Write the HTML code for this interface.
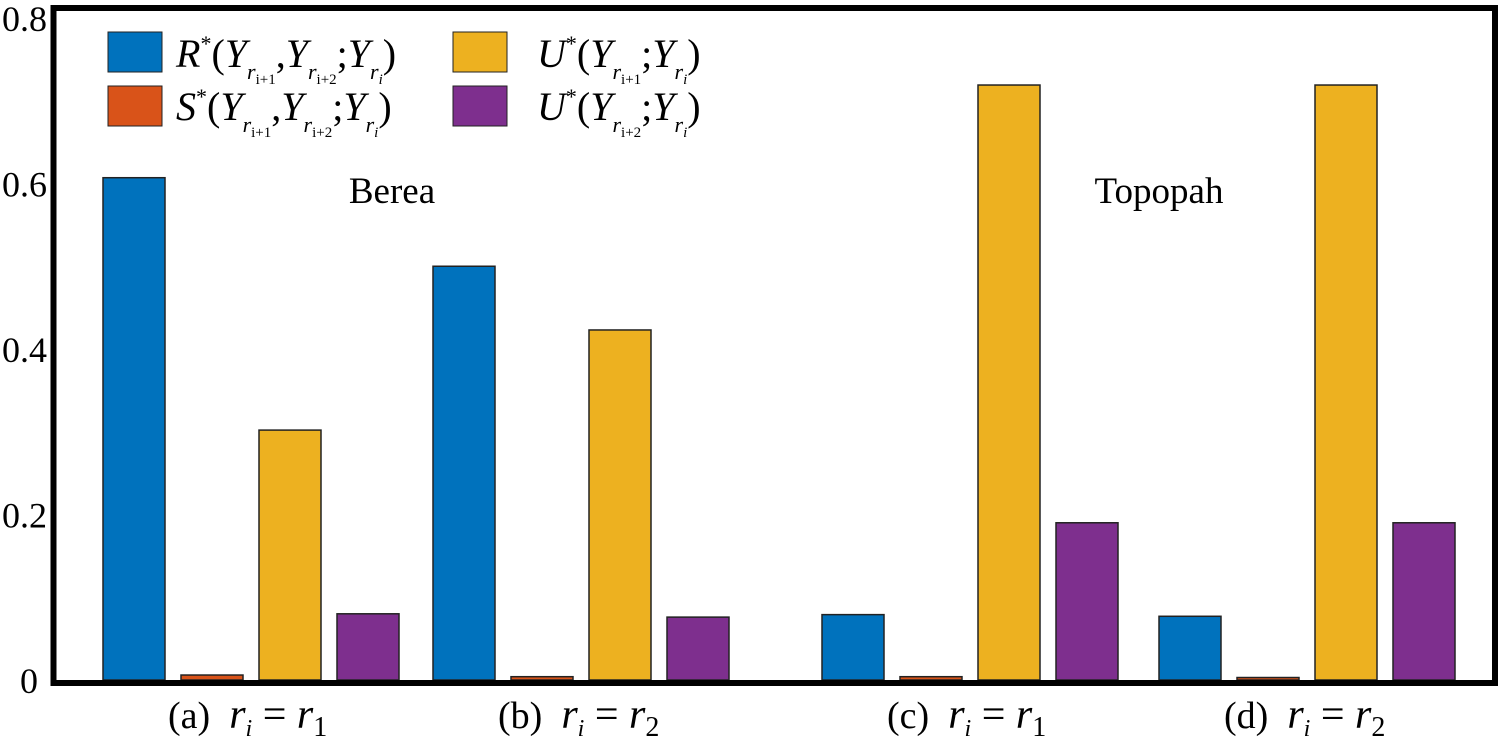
<!DOCTYPE html>
<html><head><meta charset="utf-8"><style>
body{margin:0;background:#fff;}
svg{display:block;font-family:"Liberation Serif",serif;}
</style></head><body>
<svg id="chart" width="1498" height="744">
<g id="bars"></g>
<rect x="53.5" y="8" width="1441.5" height="675" fill="none" stroke="#000" stroke-width="6"/>
<g id="yticks"></g>
<g id="xlabels"></g>
<text x="392" y="203" font-size="37" text-anchor="middle">Berea</text>
<text x="1159" y="203" font-size="37" text-anchor="middle">Topopah</text>
<g font-size="40">
<g><rect x="108" y="32" width="54" height="40" fill="#0072BD" stroke="#222"/><text x="176" y="67"><tspan font-style="italic">R</tspan><tspan font-size="22" dy="-16">*</tspan><tspan dy="16">(</tspan><tspan font-style="italic">Y</tspan><tspan font-size="22" dy="12" font-style="italic">r</tspan><tspan font-size="15" dy="5">i+1</tspan><tspan dy="-17">,</tspan><tspan font-style="italic">Y</tspan><tspan font-size="22" dy="12" font-style="italic">r</tspan><tspan font-size="15" dy="5">i+2</tspan><tspan dy="-17">;</tspan><tspan font-style="italic">Y</tspan><tspan font-size="22" dy="12" font-style="italic">r</tspan><tspan font-size="15" dy="5" font-style="italic">i</tspan><tspan dy="-17">)</tspan></text></g>
<g><rect x="108" y="86" width="54" height="40" fill="#D95319" stroke="#222"/><text x="176" y="120"><tspan font-style="italic">S</tspan><tspan font-size="22" dy="-16">*</tspan><tspan dy="16">(</tspan><tspan font-style="italic">Y</tspan><tspan font-size="22" dy="12" font-style="italic">r</tspan><tspan font-size="15" dy="5">i+1</tspan><tspan dy="-17">,</tspan><tspan font-style="italic">Y</tspan><tspan font-size="22" dy="12" font-style="italic">r</tspan><tspan font-size="15" dy="5">i+2</tspan><tspan dy="-17">;</tspan><tspan font-style="italic">Y</tspan><tspan font-size="22" dy="12" font-style="italic">r</tspan><tspan font-size="15" dy="5" font-style="italic">i</tspan><tspan dy="-17">)</tspan></text></g>
<g><rect x="453" y="32" width="54" height="40" fill="#EDB120" stroke="#222"/><text x="537" y="67"><tspan font-style="italic">U</tspan><tspan font-size="22" dy="-16">*</tspan><tspan dy="16">(</tspan><tspan font-style="italic">Y</tspan><tspan font-size="22" dy="12" font-style="italic">r</tspan><tspan font-size="15" dy="5">i+1</tspan><tspan dy="-17">;</tspan><tspan font-style="italic">Y</tspan><tspan font-size="22" dy="12" font-style="italic">r</tspan><tspan font-size="15" dy="5" font-style="italic">i</tspan><tspan dy="-17">)</tspan></text></g>
<g><rect x="453" y="86" width="54" height="40" fill="#7E2F8E" stroke="#222"/><text x="537" y="120"><tspan font-style="italic">U</tspan><tspan font-size="22" dy="-16">*</tspan><tspan dy="16">(</tspan><tspan font-style="italic">Y</tspan><tspan font-size="22" dy="12" font-style="italic">r</tspan><tspan font-size="15" dy="5">i+2</tspan><tspan dy="-17">;</tspan><tspan font-style="italic">Y</tspan><tspan font-size="22" dy="12" font-style="italic">r</tspan><tspan font-size="15" dy="5" font-style="italic">i</tspan><tspan dy="-17">)</tspan></text></g>
</g>
</svg>
<script>
const categories=["(a)","(b)","(c)","(d)"];
const subs=["1","2","1","2"];
const seriesR=[0.607,0.500,0.079,0.077];
const seriesS=[0.006,0.004,0.004,0.003];
const seriesU1=[0.302,0.423,0.719,0.719];
const seriesU2=[0.080,0.076,0.190,0.190];
const yTicks=[0,0.2,0.4,0.6,0.8];
const yTickLabels=["0","0.2","0.4","0.6","0.8"];
const series=[seriesR,seriesS,seriesU1,seriesU2];
const colors=["#0072BD","#D95319","#EDB120","#7E2F8E"];
const names=["r","s","u1","u2"];
const groupStart=[103,433,822,1159];
const NS="http://www.w3.org/2000/svg";
function y(v){return 680-v*827.5;}
function xBar(g,s){return groupStart[g]+s*78;}
const bars=document.getElementById('bars');
categories.forEach((c,g)=>{
  series.forEach((arr,s)=>{
    const r=document.createElementNS(NS,'rect');
    r.setAttribute('x',xBar(g,s));r.setAttribute('width',62);
    r.setAttribute('y',y(arr[g]));r.setAttribute('height',y(0)-y(arr[g]));
    r.setAttribute('fill',colors[s]);r.setAttribute('stroke','#222');r.setAttribute('stroke-width','1.5');
    
    
    bars.appendChild(r);
  });
  const t=document.createElementNS(NS,'text');
  t.setAttribute('x',xBar(g,0)+65);t.setAttribute('y',728);t.setAttribute('font-size','38');
  t.innerHTML=c+'&#160;&#160;<tspan font-style="italic" font-size="42">r</tspan><tspan font-size="24" dy="8" font-style="italic">i</tspan><tspan dy="-8" font-size="42"> = </tspan><tspan font-style="italic" font-size="42">r</tspan><tspan font-size="28" dy="8">'+subs[g]+'</tspan>';
  
  
  document.getElementById('xlabels').appendChild(t);
});
yTicks.forEach((v,i)=>{
  const t=document.createElementNS(NS,'text');
  t.setAttribute('x',i==0?20:2);t.setAttribute('y',y(v)+13);t.setAttribute('font-size','36');
  t.textContent=yTickLabels[i];
  
  
  document.getElementById('yticks').appendChild(t);
});
</script>
</body></html>
